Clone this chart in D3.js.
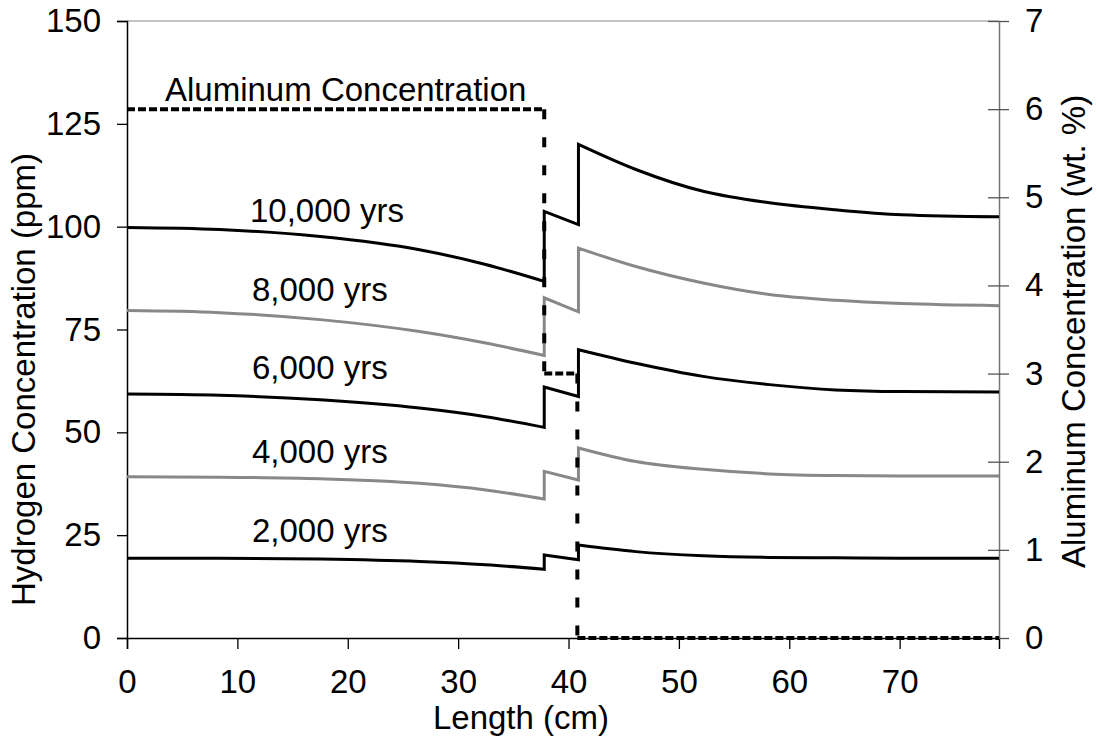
<!DOCTYPE html>
<html><head><meta charset="utf-8">
<script src="https://cdn.jsdelivr.net/npm/d3@7"></script>
<style>
html,body{margin:0;padding:0;background:#fff;}
text{font-family:"Liberation Sans",Arial,sans-serif;fill:#000;}
</style></head>
<body><svg id="chart" width="1097" height="740"></svg>
<script>
// ---- data ----
const leftX  = [0, 8.4, 17.5, 26.5, 32.5, 37.8];
const midX   = [37.8, 40.9];
const rightX = [40.9, 46.1, 52.2, 58.2, 64.2, 70.2, 79];

const seriesNames = ["10,000 yrs", "8,000 yrs", "6,000 yrs", "4,000 yrs", "2,000 yrs"];
const h10000Left = [99.8, 99.3, 97.6, 94.4, 90.8, 86.7];
const h10000Mid  = [103.7, 100.5];
const h10000Right= [120, 113.9, 108.6, 105.8, 104.1, 102.9, 102.4];
const h8000Left  = [79.6, 79.1, 77.4, 74.5, 71.7, 68.7];
const h8000Mid   = [82.7, 79.3];
const h8000Right = [94.8, 90.3, 86.3, 83.5, 82.1, 81.3, 80.8];
const h6000Left  = [59.3, 59.0, 57.9, 55.9, 53.8, 51.2];
const h6000Mid   = [61.0, 58.7];
const h6000Right = [70.1, 66.8, 63.6, 61.6, 60.3, 59.9, 59.8];
const h4000Left  = [39.2, 39.1, 38.7, 37.6, 36.0, 33.8];
const h4000Mid   = [40.5, 38.4];
const h4000Right = [46.2, 42.9, 41.0, 39.9, 39.5, 39.4, 39.4];
const h2000Left  = [19.4, 19.4, 19.2, 18.6, 17.8, 16.7];
const h2000Mid   = [20.2, 19.0];
const h2000Right = [22.6, 21.0, 20.0, 19.6, 19.5, 19.4, 19.4];

const alX = [0, 37.8, 37.8, 40.8, 40.8, 79];
const alV = [6, 6, 3, 3, 0, 0];

const xTicks = [0, 10, 20, 30, 40, 50, 60, 70];
const yLeftTicks = [0, 25, 50, 75, 100, 125, 150];
const yRightTicks = [0, 1, 2, 3, 4, 5, 6, 7];

// ---- layout ----
const svg = d3.select("#chart");
const L = 127, R = 999, T = 21, B = 638;
const x = d3.scaleLinear().domain([0, 79]).range([L, R]);
const y = d3.scaleLinear().domain([0, 150]).range([B, T]);
const y2 = d3.scaleLinear().domain([0, 7]).range([B, T]);
const FS = 33;

// top border
svg.append("line").attr("x1", L).attr("x2", R).attr("y1", T).attr("y2", T)
  .attr("stroke", "#888").attr("stroke-width", 1.2);

// left axis
const gl = svg.append("g").attr("transform", `translate(${L},0)`)
  .call(d3.axisLeft(y).tickValues(yLeftTicks).tickSize(10).tickPadding(16));
gl.select(".domain").attr("stroke", "#000").attr("stroke-width", 1.5);
gl.selectAll(".tick line").attr("stroke", "#000").attr("stroke-width", 1.3);
gl.selectAll("text").style("font-size", FS + "px").attr("font-family", null);

// bottom axis
const gb = svg.append("g").attr("transform", `translate(0,${B})`)
  .call(d3.axisBottom(x).tickValues(xTicks).tickSize(11).tickPadding(21));
gb.select(".domain").attr("stroke", "#000").attr("stroke-width", 1.5);
gb.selectAll(".tick line").attr("stroke", "#000").attr("stroke-width", 1.3);
gb.selectAll("text").style("font-size", FS + "px").attr("font-family", null);

// right axis
const gr = svg.append("g").attr("transform", `translate(${R},0)`)
  .call(d3.axisRight(y2).tickValues(yRightTicks).tickFormat(d3.format("d"))
    .tickSizeInner(10).tickSizeOuter(0).tickPadding(16));
gr.select(".domain").attr("stroke", "#777").attr("stroke-width", 1.5);
gr.selectAll(".tick line").attr("x1", -11).attr("stroke", "#555").attr("stroke-width", 1.3);
gr.selectAll("text").style("font-size", FS + "px").attr("font-family", null);
gr.selectAll(".tick").filter(d => d === 0).select("line").attr("x1", 0);

// hydrogen curves
const line = d3.line().x(d => x(d[0])).y(d => y(d[1])).curve(d3.curveMonotoneX);
const zip = (xs, vs) => xs.map((v, i) => [v, vs[i]]);
const series = [
  [h10000Left, h10000Mid, h10000Right, "#000"],
  [h8000Left, h8000Mid, h8000Right, "#888"],
  [h6000Left, h6000Mid, h6000Right, "#000"],
  [h4000Left, h4000Mid, h4000Right, "#888"],
  [h2000Left, h2000Mid, h2000Right, "#000"]
];
series.forEach(s => {
  const d = line(zip(leftX, s[0])) +
    line(zip(midX, s[1])).replace(/^M/, "L") +
    line(zip(rightX, s[2])).replace(/^M/, "L");
  svg.append("path").attr("d", d).attr("fill", "none")
    .attr("stroke", s[3]).attr("stroke-width", 3).attr("stroke-linejoin", "miter");
});

// aluminum dashed step line
for (let i = 0; i < alX.length - 1; i++) {
  const vertical = alX[i] === alX[i + 1];
  svg.append("line")
    .attr("x1", x(alX[i])).attr("y1", y2(alV[i]))
    .attr("x2", x(alX[i + 1])).attr("y2", y2(alV[i + 1]))
    .attr("stroke", "#000").attr("stroke-width", 4)
    .attr("stroke-dasharray", vertical ? "10,18" : "8,3");
}

// series labels
const labelPos = [[250, 222], [252, 301], [252, 379], [252, 463], [252, 542]];
seriesNames.forEach((n, i) => {
  svg.append("text").attr("x", labelPos[i][0]).attr("y", labelPos[i][1])
    .style("font-size", FS + "px").text(n);
});
svg.append("text").attr("x", 165).attr("y", 101).style("font-size", FS + "px").text("Aluminum Concentration");

// axis titles
svg.append("text").attr("x", 521).attr("y", 729).attr("text-anchor", "middle")
  .style("font-size", FS + "px").text("Length (cm)");
svg.append("text").attr("transform", "translate(35,606) rotate(-90)")
  .style("font-size", FS + "px").text("Hydrogen Concentration (ppm)");
svg.append("text").attr("transform", "translate(1085,568) rotate(-90)")
  .style("font-size", FS + "px").text("Aluminum Concentration (wt. %)");
</script></body></html>
